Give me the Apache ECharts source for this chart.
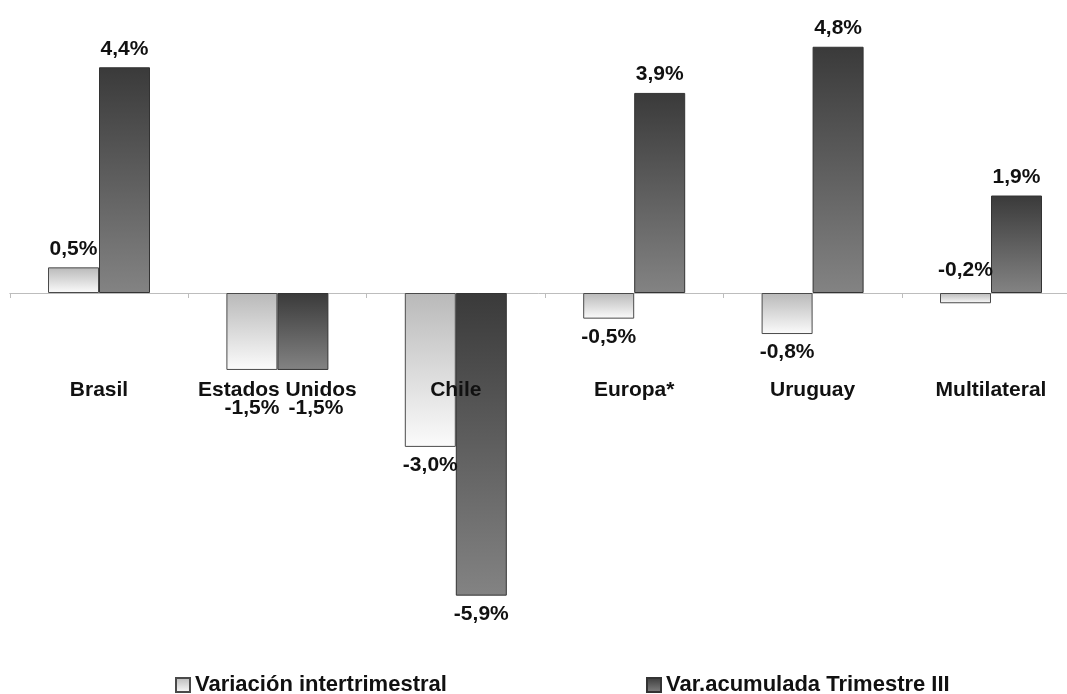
<!DOCTYPE html>
<html>
<head>
<meta charset="utf-8">
<script src="https://cdn.jsdelivr.net/npm/echarts@6/dist/echarts.min.js"></script>
<style>
html,body{margin:0;padding:0;background:#fff;}
#chart{width:1067px;height:694px;}
</style>
</head>
<body>
<div id="chart"></div>
<script>
const categories = ['Brasil', 'Estados Unidos', 'Chile', 'Europa*', 'Uruguay', 'Multilateral'];
const seriesNames = ['Variación intertrimestral', 'Var.acumulada Trimestre III'];
const variacionInter = [0.5, -1.5, -3.0, -0.5, -0.8, -0.2];
const varAcumulada = [4.4, -1.5, -5.9, 3.9, 4.8, 1.9];

const FONT = '"Liberation Sans", Arial, sans-serif';
const fmt = v => (v < 0 ? '-' : '') + Math.abs(v).toFixed(1).replace('.', ',') + '%';

function grad(c0, c1) {
  return { type: 'linear', x: 0, y: 0, x2: 0, y2: 1,
    colorStops: [{ offset: 0, color: c0 }, { offset: 1, color: c1 }] };
}

function buildData(values, seriesIdx) {
  return values.map((v, i) => {
    const item = { value: v, label: { position: v >= 0 ? 'top' : 'bottom' } };
    if (categories[i] === 'Estados Unidos') {
      item.label.offset = seriesIdx === 0 ? [0, 20] : [13, 20];
    }
    if (categories[i] === 'Multilateral' && v < 0) {
      item.label.position = 'top';
      item.label.offset = [0, -4];
    }
    return item;
  });
}

const labelStyle = {
  show: true, distance: 8, color: '#111', fontFamily: FONT, fontWeight: 'bold', fontSize: 21,
  formatter: p => fmt(p.value)
};

const chart = echarts.init(document.getElementById('chart'), null, { renderer: 'canvas' });
chart.setOption({
  animation: false,
  backgroundColor: '#fff',
  grid: { left: 9.8, right: -13.2, top: 36.5, bottom: 93.2, containLabel: false, outerBoundsMode: 'none' },
  legend: [
    { data: [seriesNames[0]], left: 170, top: 669, icon: 'rect', itemWidth: 14, itemHeight: 14,
      textStyle: { fontFamily: FONT, fontWeight: 'bold', fontSize: 22, color: '#111' } },
    { data: [seriesNames[1]], left: 641, top: 669, icon: 'rect', itemWidth: 14, itemHeight: 14,
      textStyle: { fontFamily: FONT, fontWeight: 'bold', fontSize: 22, color: '#111' } }
  ],
  xAxis: [
    {
      type: 'category', data: categories,
      axisLine: { show: true, onZero: true, lineStyle: { color: '#bdbdbd', width: 1 } },
      axisTick: { show: true, length: 5, lineStyle: { color: '#bdbdbd' } },
      axisLabel: { show: false },
      splitLine: { show: false }
    },
    {
      type: 'category', data: categories, position: 'bottom', z: 10,
      axisLine: { show: false, onZero: false },
      axisTick: { show: false },
      axisLabel: { show: true, interval: 0, margin: -221, color: '#111', fontFamily: FONT, fontWeight: 'bold', fontSize: 21 },
      splitLine: { show: false }
    }
  ],
  yAxis: {
    type: 'value', min: -6, max: 5, show: false, splitLine: { show: false }
  },
  series: [
    { name: seriesNames[0], type: 'bar', barWidth: 51, barGap: '0%',
      data: buildData(variacionInter, 0),
      itemStyle: { color: grad('#b9b9b9', '#fbfbfb'), borderColor: '#4a4a4a', borderWidth: 1 },
      label: labelStyle },
    { name: seriesNames[1], type: 'bar', barWidth: 51, barGap: '0%',
      data: buildData(varAcumulada, 1),
      itemStyle: { color: grad('#3a3a3a', '#838383'), borderColor: '#333', borderWidth: 1 },
      label: labelStyle }
  ]
});
</script>
</body>
</html>
